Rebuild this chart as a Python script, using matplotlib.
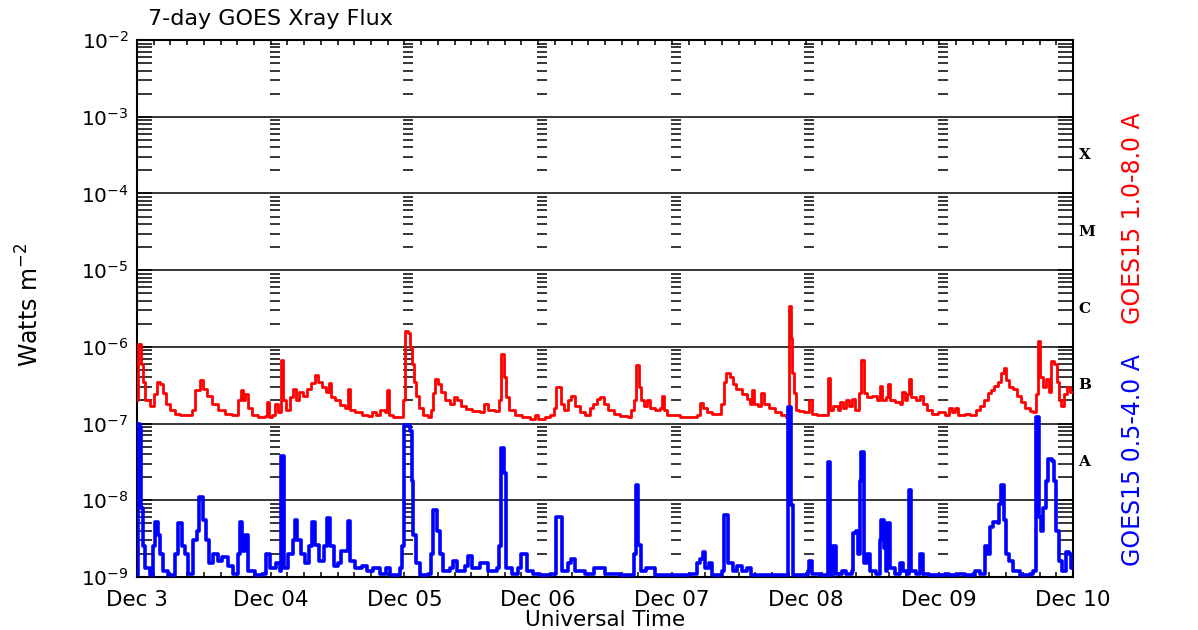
import numpy as np
import matplotlib
matplotlib.use("Agg")
import matplotlib.pyplot as plt
import matplotlib.transforms as mtransforms

# GOES15 long channel (1.0-8.0 A), hours since Dec 3 00:00 UT, W m^-2 (step levels)
red_hours = [0.0, 0.2, 0.7, 1.1, 1.4, 2.3, 3.0, 3.6, 4.1, 4.7, 5.2, 5.9, 6.8, 7.7, 9.9, 10.4,
             11.3, 11.8, 12.6, 13.5, 14.5, 15.8, 17.1, 18.1, 18.7, 19.0, 19.4, 19.9, 20.6, 21.7,
             23.0, 23.3, 23.7,
             24.2, 24.8, 25.3, 25.8, 26.2, 26.7, 27.5, 28.0, 28.5, 29.1, 29.8, 30.5, 31.2, 32.0,
             32.5, 33.2, 33.9, 34.5, 34.8, 35.5, 36.4, 37.3, 37.9, 38.2, 39.1, 40.4, 41.5, 42.2,
             42.9, 43.6, 44.5, 44.9, 45.3, 46.0, 47.2, 47.7,
             48.1, 48.6, 49.0, 49.4, 49.7, 50.1, 50.6, 51.3, 52.2, 52.7, 53.1, 53.5, 54.0, 54.6,
             55.3, 56.2, 56.9, 57.4, 58.2, 59.1, 60.1, 61.6, 62.3, 63.0, 64.3, 65.0, 65.3, 65.9,
             66.2, 66.8, 67.9, 69.1, 70.5, 71.4,
             72.0, 73.2, 74.1, 74.8, 75.2, 76.1, 76.6, 77.4, 77.9, 78.6, 79.5, 80.4, 81.3, 81.8,
             82.5, 83.1, 83.8, 84.5, 85.6, 86.7, 88.1, 88.7, 89.2, 89.6, 90.1, 90.5, 91.0, 91.6,
             92.1, 93.0, 93.9, 94.3, 94.6, 95.1,
             95.9, 97.5, 99.3, 100.5, 101.0, 101.6, 102.3, 103.2, 104.3, 104.8, 105.3, 105.8,
             106.4, 106.9, 107.6, 108.5, 109.4, 110.1, 110.4, 110.8, 111.5, 112.0, 112.5, 113.4,
             114.5, 115.6, 116.5, 117.0, 117.4, 117.6, 117.9, 118.3,
             118.8, 119.7, 120.4, 120.7, 121.1, 122.1, 123.2, 124.0, 124.4, 125.0, 125.8, 126.1,
             126.7, 127.2, 127.8, 128.3, 128.9, 129.6, 130.0, 130.5, 131.0, 131.9, 132.8, 133.4,
             133.8, 134.4, 134.8, 135.2, 136.1, 136.9, 137.3, 137.8, 138.2, 138.6, 139.0, 139.8,
             140.5, 141.0, 141.8, 142.7,
             143.8, 145.0, 145.7, 146.3, 146.8, 147.3, 148.6, 149.5, 150.6, 151.3, 152.0, 152.7,
             153.3, 153.8, 154.5, 155.1, 155.6, 156.0, 156.5, 157.2, 157.9, 158.6, 159.3, 160.2,
             160.9, 161.4, 161.7, 162.1, 162.6, 163.1, 163.7, 164.1, 164.6, 165.2, 165.5, 165.9,
             166.4, 166.9, 167.5]
red_flux = [2.0e-7, 1.1e-6, 6e-7, 3.5e-7, 2.0e-7, 1.7e-7, 2.4e-7, 3.5e-7, 3.3e-7, 2.5e-7, 1.8e-7,
            1.5e-7, 1.35e-7, 1.3e-7, 1.5e-7, 2.7e-7,
            3.7e-7, 2.8e-7, 2.3e-7, 1.8e-7, 1.5e-7, 1.35e-7, 1.3e-7, 2.0e-7, 2.7e-7, 2.0e-7, 2.4e-7,
            1.6e-7, 1.3e-7, 1.2e-7, 1.25e-7, 1.9e-7, 1.2e-7,
            1.3e-7, 1.8e-7, 1.4e-7, 6.7e-7, 2.0e-7, 1.5e-7, 2.2e-7, 2.8e-7, 2.0e-7, 2.6e-7, 2.3e-7,
            2.8e-7, 3.4e-7, 4.3e-7, 3.5e-7, 3.0e-7, 2.6e-7, 3.4e-7, 2.2e-7, 2.0e-7, 1.75e-7, 1.6e-7,
            2.8e-7, 1.5e-7, 1.4e-7, 1.3e-7, 1.25e-7, 1.4e-7, 1.3e-7, 1.5e-7, 1.4e-7, 2.7e-7, 1.3e-7,
            1.2e-7, 1.2e-7, 2.0e-7,
            1.6e-6, 1.5e-6, 1.0e-6, 6e-7, 3.5e-7, 2.3e-7, 1.6e-7, 1.3e-7, 1.2e-7, 1.5e-7, 2.5e-7,
            3.8e-7, 3.3e-7, 2.6e-7, 2.0e-7, 1.8e-7, 2.2e-7, 2.0e-7, 1.7e-7, 1.55e-7, 1.45e-7, 1.4e-7,
            1.8e-7, 1.5e-7, 1.45e-7, 2.0e-7, 8.0e-7, 4.0e-7, 2.2e-7, 1.5e-7, 1.3e-7, 1.2e-7,
            1.15e-7, 1.3e-7,
            1.15e-7, 1.2e-7, 1.3e-7, 1.6e-7, 3.0e-7, 1.8e-7, 1.5e-7, 2.0e-7, 2.3e-7, 1.7e-7, 1.4e-7,
            1.3e-7, 1.6e-7, 1.8e-7, 2.1e-7, 2.2e-7, 1.8e-7, 1.5e-7, 1.35e-7, 1.25e-7, 1.2e-7, 1.5e-7,
            2.0e-7, 5.8e-7, 3.0e-7, 2.0e-7, 1.7e-7, 2.0e-7, 1.6e-7, 1.5e-7, 1.6e-7, 2.3e-7, 1.5e-7,
            1.3e-7,
            1.3e-7, 1.2e-7, 1.2e-7, 1.3e-7, 1.85e-7, 1.6e-7, 1.4e-7, 1.35e-7, 1.35e-7, 1.8e-7,
            3.5e-7, 4.5e-7, 4.0e-7, 3.3e-7, 2.8e-7, 2.4e-7, 2.1e-7, 1.8e-7, 2.7e-7, 1.8e-7, 1.7e-7,
            2.5e-7, 1.8e-7, 1.6e-7, 1.4e-7, 1.3e-7, 1.2e-7, 3.4e-6, 1.3e-6, 4.6e-7, 2.5e-7, 1.5e-7,
            1.45e-7, 1.4e-7, 1.4e-7, 2.0e-7, 1.35e-7, 1.3e-7, 1.3e-7, 3.9e-7, 1.5e-7, 1.7e-7, 1.5e-7,
            1.9e-7, 1.6e-7, 2.0e-7, 1.7e-7, 2.1e-7, 1.5e-7, 2.5e-7, 6.7e-7, 2.5e-7, 2.2e-7, 2.3e-7,
            2.0e-7, 3.1e-7, 2.0e-7, 2.2e-7, 3.3e-7, 2.0e-7, 1.9e-7, 1.8e-7, 2.6e-7, 2.0e-7, 2.4e-7,
            3.8e-7, 2.2e-7, 2.0e-7, 2.3e-7, 1.8e-7, 1.5e-7, 1.35e-7,
            1.4e-7, 1.3e-7, 1.6e-7, 1.4e-7, 1.6e-7, 1.3e-7, 1.35e-7, 1.3e-7, 1.5e-7, 1.7e-7, 2.0e-7,
            2.5e-7, 2.7e-7, 3.1e-7, 3.5e-7, 4.5e-7, 5.3e-7, 3.7e-7, 3.0e-7, 2.8e-7, 2.3e-7, 1.9e-7,
            1.6e-7, 1.45e-7, 1.4e-7, 2.4e-7, 1.2e-6, 4.0e-7, 3.0e-7, 3.8e-7, 2.6e-7, 6.5e-7, 6.0e-7,
            3.5e-7, 2.0e-7, 1.7e-7, 2.4e-7, 3.0e-7, 2.6e-7]

# GOES15 short channel (0.5-4.0 A)
blue_hours = [0.0, 0.2, 0.6, 0.8, 1.1, 1.4, 2.3, 2.9, 3.3, 3.8, 4.1, 4.7, 5.6, 6.8, 7.4, 8.1, 8.6,
              9.2, 10.1, 10.8, 11.2, 11.8, 12.4, 12.9, 13.6, 14.5, 15.3, 16.3, 17.2, 18.1, 18.5,
              18.9, 19.4, 19.9, 21.2, 22.4, 23.2, 23.9,
              25.0, 25.6, 25.9, 26.3, 27.1, 28.0, 28.4, 28.8, 29.4, 30.2, 30.9, 31.4, 31.9, 32.7,
              33.6, 34.1, 34.6, 35.4, 36.1, 36.6, 37.9, 38.3, 39.1, 40.4, 41.3, 42.4, 43.6, 44.7,
              45.4, 47.2, 47.6,
              47.9, 49.0, 49.3, 49.6, 50.1, 50.8, 52.2, 52.7, 53.2, 53.8, 54.3, 54.9, 56.2, 56.7,
              57.4, 58.9, 59.4, 60.1, 61.6, 63.0, 64.6, 65.0, 65.3, 65.8, 66.2, 67.3, 68.4, 68.9,
              70.0, 71.1,
              72.3, 74.1, 75.2, 76.2, 77.4, 77.9, 78.6, 80.4, 82.1, 84.0, 86.7, 89.2, 89.5, 90.0,
              90.5, 91.4, 93.0,
              99.3, 100.5, 101.0, 101.5, 101.9, 102.6, 103.2, 105.0, 105.3, 106.0, 106.9, 107.7,
              108.6, 109.5, 110.2, 116.9, 117.4, 117.8,
              120.4, 120.7, 121.1, 122.5, 124.0, 124.4, 125.0, 125.4, 126.5, 127.2, 128.3, 128.5,
              129.0, 129.4, 129.7, 130.0, 130.5, 131.0, 131.5, 132.6, 133.3, 133.6, 134.0, 134.4,
              134.7, 135.1, 136.0, 136.9, 137.5, 138.2, 138.5, 138.9, 139.9, 140.6, 141.0, 142.2,
              145.0, 145.8, 147.3, 148.6, 150.4, 151.3, 152.2, 152.7, 153.1, 153.6, 154.5, 154.8,
              155.1, 155.6, 156.0, 156.5, 157.2, 158.4, 160.2, 160.9, 161.4, 161.9, 162.2, 162.6,
              163.1, 163.5, 164.2, 164.6, 164.9, 165.5, 166.0, 166.7, 167.3, 167.7]
blue_flux = [1.05e-9, 1.0e-7, 9e-8, 8e-9, 2.5e-9, 1.3e-9, 1.05e-9, 2.5e-9, 5.2e-9, 3.5e-9, 2.0e-9,
             1.2e-9, 1.05e-9, 2.0e-9, 5.0e-9, 2.5e-9, 2.0e-9, 1.1e-9, 3.0e-9, 4.0e-9, 1.1e-8, 5.5e-9,
             3.0e-9, 1.5e-9, 2.0e-9, 1.6e-9, 1.8e-9, 1.4e-9, 1.1e-9, 2.0e-9, 5.2e-9, 2.2e-9, 3.5e-9,
             1.2e-9, 1.05e-9, 1.1e-9, 2.0e-9, 1.3e-9,
             1.5e-9, 1.2e-9, 3.8e-8, 1.3e-9, 2.0e-9, 3.0e-9, 5.5e-9, 3.0e-9, 2.0e-9, 1.5e-9, 2.5e-9,
             5.2e-9, 2.6e-9, 1.6e-9, 2.5e-9, 5.8e-9, 2.5e-9, 1.4e-9, 1.5e-9, 2.2e-9, 5.3e-9, 1.6e-9,
             1.3e-9, 1.4e-9, 1.2e-9, 1.3e-9, 1.1e-9, 1.3e-9, 1.05e-9, 1.3e-9, 2.5e-9,
             9.5e-8, 8e-8, 1.8e-8, 3.5e-9, 1.5e-9, 1.05e-9, 1.1e-9, 2.0e-9, 7.5e-9, 4.0e-9, 2.0e-9,
             1.2e-9, 1.3e-9, 1.6e-9, 1.2e-9, 1.4e-9, 1.9e-9, 1.3e-9, 1.5e-9, 1.2e-9, 1.3e-9, 2.5e-9,
             4.8e-8, 2.3e-8, 1.3e-9, 1.1e-9, 1.3e-9, 2.0e-9, 1.2e-9, 1.1e-9,
             1.05e-9, 1.1e-9, 6.0e-9, 1.2e-9, 1.5e-9, 1.7e-9, 1.2e-9, 1.1e-9, 1.3e-9, 1.1e-9,
             1.05e-9, 2.0e-9, 1.6e-8, 2.6e-9, 1.2e-9, 1.3e-9, 1.05e-9,
             1.1e-9, 1.5e-9, 1.7e-9, 2.1e-9, 1.3e-9, 1.5e-9, 1.05e-9, 1.2e-9, 6.5e-9, 1.5e-9,
             1.2e-9, 1.4e-9, 1.2e-9, 1.3e-9, 1.05e-9, 1.65e-7, 8.7e-9, 1.05e-9,
             1.2e-9, 1.6e-9, 1.1e-9, 1.05e-9, 3.2e-8, 1.05e-9, 2.5e-9, 1.1e-9, 1.2e-9, 1.1e-9,
             1.2e-9, 3.7e-9, 4.0e-9, 2.0e-9, 1.8e-8, 4.3e-8, 1.5e-9, 2.0e-9, 1.2e-9, 1.1e-9, 3.0e-9,
             5.5e-9, 2.4e-9, 1.2e-9, 5.0e-9, 1.3e-9, 1.1e-9, 1.5e-9, 1.2e-9, 1.1e-9, 1.36e-8,
             1.2e-9, 1.1e-9, 2.0e-9, 1.1e-9, 1.05e-9,
             1.1e-9, 1.05e-9, 1.1e-9, 1.05e-9, 1.2e-9, 1.1e-9, 2.5e-9, 2.0e-9, 4.5e-9, 5.2e-9,
             5.0e-9, 9e-9, 1.6e-8, 5.5e-9, 2.0e-9, 1.6e-9, 1.2e-9, 1.05e-9, 1.1e-9, 1.2e-9, 1.2e-7,
             6.0e-9, 4.0e-9, 8e-9, 1.8e-8, 3.5e-8, 3.3e-8, 1.8e-8, 4.0e-9, 1.6e-9, 1.2e-9, 2.1e-9,
             2.0e-9, 1.3e-9]

day_labels = ["Dec 3", "Dec 04", "Dec 05", "Dec 06", "Dec 07", "Dec 08", "Dec 09", "Dec 10"]
decades = [-9, -8, -7, -6, -5, -4, -3, -2]
flare_classes = ["A", "B", "C", "M", "X"]

W, H = 1198, 630
fig = plt.figure(figsize=(W / 100, H / 100), dpi=100)
ax = fig.add_axes([137 / W, (H - 577) / H, 936 / W, 537 / H])

t_end = 24 * (len(day_labels) - 1)

# horizontal decade lines
for d in decades[1:-1]:
    ax.axhline(10.0 ** d, color="black", lw=1.1, zorder=1)

# minor-tick columns at each day boundary
col_y = [k * 10.0 ** d for d in decades[:-1] for k in range(2, 10)]
for day in range(1, len(day_labels) - 1):
    ax.plot([24 * day + 0.7] * len(col_y), col_y, ls="none", marker="_",
            ms=7.5, mew=1.1, color="black", zorder=1)

ax.step(red_hours + [t_end], red_flux + [red_flux[-1]], where="post",
        color="#ff0000", lw=2.0, zorder=3)
ax.step(blue_hours + [t_end], blue_flux + [blue_flux[-1]], where="post",
        color="#0000ff", lw=2.6, zorder=3)

ax.set_yscale("log")
ax.set_ylim(1e-9, 1e-2)
ax.set_xlim(0, t_end)
ax.set_yticks([10.0 ** d for d in decades])
ax.set_yticklabels(["$10^{%d}$" % d for d in decades])
ax.yaxis.set_minor_locator(matplotlib.ticker.LogLocator(base=10, subs=range(2, 10), numticks=20))
ax.yaxis.set_minor_formatter(matplotlib.ticker.NullFormatter())
ax.set_xticks(range(0, t_end + 1, 24))
ax.set_xticklabels(day_labels)
ax.set_xticks(range(0, t_end + 1, 3), minor=True)

ax.tick_params(which="both", direction="in", left=True, right=True, top=True, bottom=True,
               width=1.1, color="black")
ax.tick_params(axis="y", which="both", length=10.8, labelsize=14.5, pad=6)
ax.tick_params(axis="x", which="both", length=3.6, labelsize=15.5, pad=9)
for s in ax.spines.values():
    s.set_linewidth(1.5)

ax.set_xlabel("Universal Time", fontsize=15.5, labelpad=0)

# flare class letters on the right
trans = mtransforms.blended_transform_factory(ax.transAxes, ax.transData)
for i, c in enumerate(flare_classes):
    ax.text(1.006, 10.0 ** (decades[1] + i + 0.5), c, transform=trans, ha="left", va="center",
            fontsize=11, family="DejaVu Serif", fontweight="bold")

fig.text(148 / W, 1 - 25 / H, "7-day GOES Xray Flux", fontsize=16, ha="left", va="baseline")
fig.text(30 / W, 1 - 305 / H, "Watts m$^{-2}$", rotation=90, fontsize=17,
         ha="center", va="center")
fig.text(1133 / W, 1 - 218 / H, "GOES15 1.0-8.0 A", rotation=90, fontsize=17, color="#ff0000",
         ha="center", va="center")
fig.text(1133 / W, 1 - 460 / H, "GOES15 0.5-4.0 A", rotation=90, fontsize=17, color="#0000ff",
         ha="center", va="center")

fig.savefig("out.png", dpi=100)
